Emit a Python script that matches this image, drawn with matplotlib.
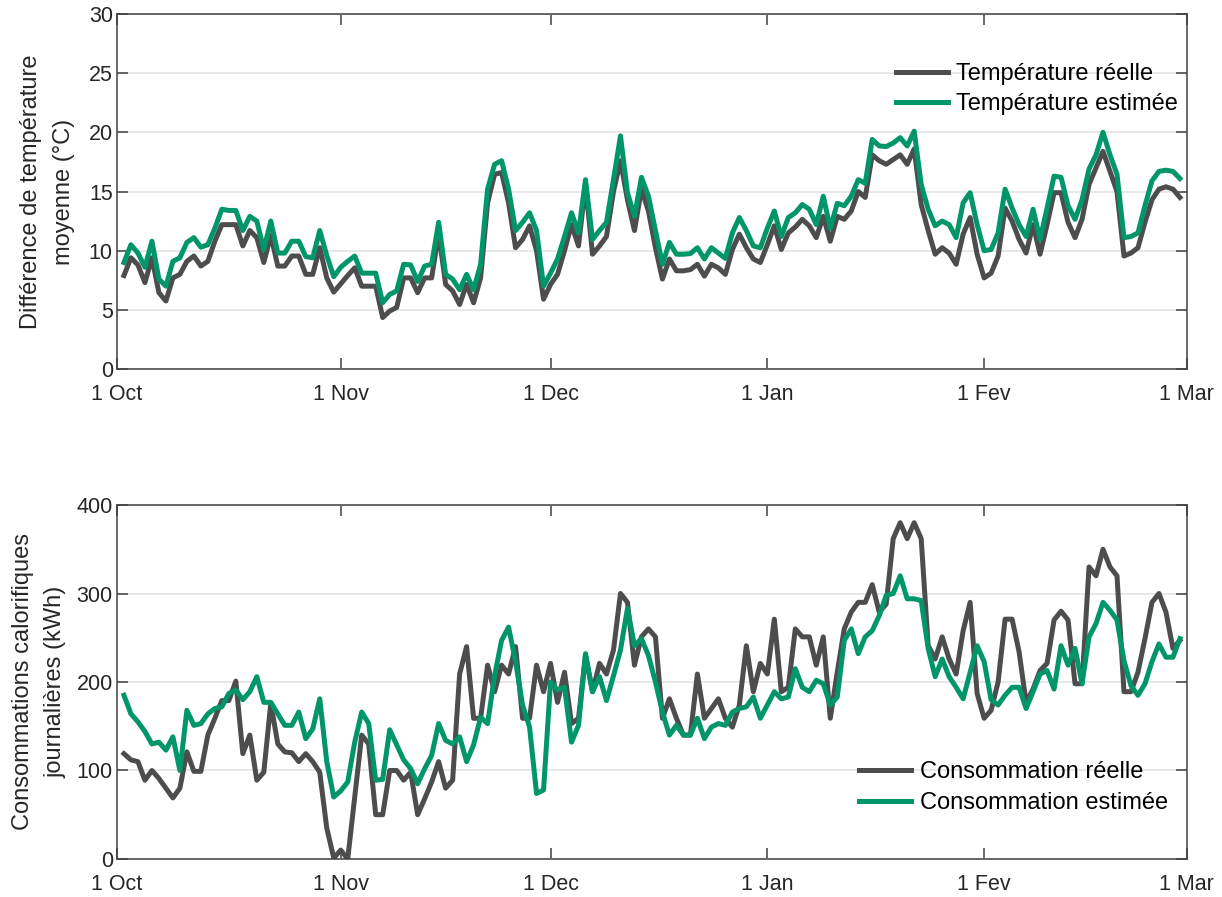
import numpy as np
import matplotlib
matplotlib.use("Agg")
import matplotlib.pyplot as plt

# --- DATA (daily values, 1 Oct -> end of Feb) ---
temp_reelle = [
    7.9, 9.4, 8.8, 7.3, 9.4, 6.45, 5.75, 7.7, 8.0, 9.1, 9.55, 8.7, 9.1, 10.8, 12.2, 12.2,
    12.2, 10.4, 11.7, 11.1, 9.0, 11.3, 8.7, 8.7, 9.55, 9.55, 8.0, 8.0, 10.25, 7.7, 6.5,
    7.2, 7.9, 8.55, 7.0, 7.0, 7.0, 4.35, 4.9, 5.2, 7.7, 7.7, 6.45, 7.7, 7.7, 11.5, 7.15,
    6.6, 5.45, 7.15, 5.6, 7.7, 14.05, 16.45, 16.6, 14.05, 10.25, 10.95, 12.1, 10.0, 5.9,
    7.15, 8.0, 10.0, 12.2, 10.4, 15.6, 9.7, 10.4, 11.2, 15.0, 17.6, 14.3, 11.7, 15.2, 13.35,
    10.25, 7.6, 9.3, 8.3, 8.3, 8.4, 8.85, 7.85, 8.85, 8.55, 8.0, 10.1, 11.4, 10.25, 9.3,
    9.0, 10.5, 12.1, 10.1, 11.5, 12.0, 12.65, 12.1, 11.1, 12.9, 10.8, 12.9, 12.65, 13.35,
    15.0, 14.5, 18.1, 17.6, 17.3, 17.7, 18.1, 17.3, 18.6, 13.9, 11.7, 9.7, 10.25, 9.8, 8.85,
    11.4, 12.8, 9.7, 7.7, 8.1,
    9.55, 13.6, 12.5, 10.95, 9.8, 12.2, 9.7, 12.2, 14.9, 14.9, 12.4, 11.1, 12.65, 15.6,
    17.0, 18.4, 16.7, 15.0, 9.55, 9.8, 10.25, 12.4, 14.3, 15.2, 15.4, 15.2, 14.5,
]
temp_estimee = [
    9.0, 10.5, 9.8, 8.6, 10.8, 7.6, 7.0, 9.1, 9.4, 10.7, 11.1, 10.3, 10.5, 11.9, 13.5, 13.4,
    13.4, 11.7, 12.9, 12.5, 10.1, 12.5, 9.8, 9.8, 10.8, 10.8, 9.5, 9.4, 11.7, 9.6, 7.8,
    8.6, 9.1, 9.55, 8.1, 8.1, 8.1, 5.6, 6.3, 6.6, 8.85, 8.8, 7.4, 8.7, 8.85, 12.4, 8.0,
    7.6, 6.7, 8.0, 6.7, 8.85, 15.2, 17.3, 17.6, 15.2, 11.7, 12.4, 13.2, 11.7, 7.0,
    8.1, 9.3, 11.2, 13.2, 11.5, 16.0, 10.95, 11.7, 12.4, 16.0, 19.7, 14.9, 12.9, 16.2, 14.6,
    11.7, 8.85, 10.7, 9.7, 9.7, 9.75, 10.25, 9.3, 10.25, 9.8, 9.35, 11.5, 12.8, 11.7, 10.4,
    10.25, 11.9, 13.35, 11.2, 12.8, 13.2, 13.9, 13.5, 12.2, 14.6, 11.9, 14.0, 13.8, 14.6,
    16.0, 15.7, 19.4, 18.85, 18.8, 19.1, 19.55, 18.85, 20.1, 15.6, 13.5, 12.1, 12.5, 12.2,
    11.1, 14.05, 14.9, 12.2, 10.0, 10.1,
    11.5, 15.2, 13.6, 12.2, 11.2, 13.5, 10.95, 13.6, 16.3, 16.2, 13.8, 12.65, 14.3, 16.9,
    18.1, 20.0, 18.1, 16.45, 11.1, 11.2, 11.5, 13.8, 15.9, 16.7, 16.8, 16.7, 16.1,
]
conso_reelle = [
    119, 112, 110, 89, 100, 91, 80, 69, 80, 121, 99, 99, 140, 159, 179, 179, 201, 119,
    140, 89, 98, 176, 130, 121, 120, 110, 119, 110, 98, 35,
    1, 10, 0, 70, 140, 130, 50, 50, 100, 100, 89, 98, 50, 68, 87, 110, 80, 89, 209, 240,
    159, 159, 219, 189, 219, 209, 240, 159, 159, 219, 189, 221,
    177, 211, 153, 159, 230, 189, 221, 209, 236, 300, 290, 219, 251, 260, 251, 159, 181,
    159, 140, 140, 209, 159, 170, 181, 159, 149, 174, 241, 189, 221, 209, 271,
    189, 194, 260, 251, 251, 219, 251, 159, 211, 260, 279, 290, 290, 310, 279, 288, 362,
    380, 362, 380, 362, 241, 226, 251, 226, 209, 258, 290, 187, 159, 168,
    200, 271, 271, 234, 177, 192, 213, 221, 270, 280, 270, 198, 198, 330, 320, 350, 330,
    320, 189, 189, 211, 249, 290, 300, 279, 238, 247,
]
conso_estimee = [
    185, 164, 155, 144, 130, 132, 123, 138, 100, 168, 151, 153, 164, 170, 172, 187, 191,
    180, 189, 206, 177, 177, 164, 151, 151, 166, 136, 147, 181, 110,
    70, 77, 87, 132, 166, 153, 89, 90, 146, 129, 112, 102, 85, 102, 117, 153, 134, 130,
    138, 110, 129, 160, 153, 207, 247, 262, 223, 174, 149, 74,
    78, 200, 191, 194, 132, 151, 232, 189, 206, 179, 207, 236, 283, 241, 249, 230, 200,
    166, 140, 151, 140, 140, 159, 136, 149, 153, 151, 166, 170, 172, 183, 159, 174, 189,
    181, 183, 215, 194, 189, 202, 198, 174, 183, 247, 260, 232, 251, 258, 275, 298, 300,
    320, 294, 294, 292, 238, 206, 226, 206, 194, 181, 211, 241, 223, 180,
    174, 185, 194, 194, 170, 189, 209, 213, 192, 241, 219, 238, 198, 251, 266, 290, 281,
    270, 224, 196, 185, 198, 223, 243, 228, 228, 249,
]
days = np.arange(1, len(temp_reelle) + 1)

month_ticks = [0, 32, 62, 93, 124, 153]
month_labels = ['1 Oct', '1 Nov', '1 Dec', '1 Jan', '1 Fev', '1 Mar']

# --- STYLE ---
plt.rcParams['font.family'] = ['Liberation Sans', 'DejaVu Sans']
tick_fs = 15.5
legend_fs = 17
label_fs = 17
gray = '#4d4d4d'
green = '#00966a'
axis_col = '#404040'
text_col = '#262626'

fig = plt.figure(figsize=(12.22, 8.97), dpi=100)
ax1 = fig.add_axes([0.0957, 0.5886, 0.8756, 0.3958])
ax2 = fig.add_axes([0.0957, 0.0424, 0.8756, 0.3946])


def style_axis(ax, ymax, ystep):
    ax.set_xlim(month_ticks[0], month_ticks[-1])
    ax.set_ylim(0, ymax)
    ax.set_xticks(month_ticks)
    ax.set_xticklabels(month_labels)
    ax.set_yticks(np.arange(0, ymax + 1, ystep))
    ax.yaxis.grid(True, color='#e6e6e6', linewidth=1.3)
    ax.set_axisbelow(True)
    ax.tick_params(direction='in', length=8, width=1.1, color=axis_col,
                   labelcolor=text_col, top=True, right=True, labelsize=tick_fs)
    ax.tick_params(axis='x', pad=11)
    ax.tick_params(axis='y', pad=3)
    for sp in ax.spines.values():
        sp.set_color(axis_col)
        sp.set_linewidth(1.1)


# Top: temperature
ax1.plot(days, temp_reelle, color=gray, linewidth=3.6, label='Température réelle')
ax1.plot(days, temp_estimee, color=green, linewidth=3.6, label='Température estimée')
style_axis(ax1, 30, 5)
ax1.set_ylabel('Différence de température\nmoyenne (°C)', color=text_col, labelpad=10,
               fontsize=label_fs, linespacing=1.65)
ax1.legend(loc='upper right', bbox_to_anchor=(0.992, 0.862), frameon=False,
           fontsize=legend_fs, handlelength=2.2, handletextpad=0.35, labelspacing=0.36,
           borderaxespad=0, borderpad=0)

# Bottom: consumption
ax2.plot(days, conso_reelle, color=gray, linewidth=3.6, label='Consommation réelle')
ax2.plot(days, conso_estimee, color=green, linewidth=3.6, label='Consommation estimée')
style_axis(ax2, 400, 100)
ax2.set_ylabel('Consommations calorifiques\njournalières (kWh)', color=text_col, labelpad=7,
               fontsize=label_fs, linespacing=1.65)
ax2.legend(loc='upper right', bbox_to_anchor=(0.982, 0.276), frameon=False,
           fontsize=legend_fs, handlelength=2.2, handletextpad=0.35, labelspacing=0.36,
           borderaxespad=0, borderpad=0)

fig.savefig('out.png', dpi=100)
